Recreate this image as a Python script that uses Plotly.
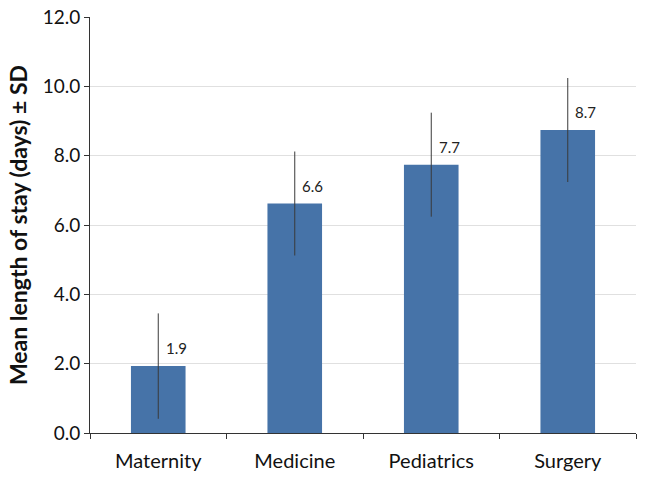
import plotly.graph_objects as go

categories = ["Maternity", "Medicine", "Pediatrics", "Surgery"]
means = [1.93, 6.62, 7.74, 8.74]
sds = [1.52, 1.5, 1.5, 1.5]
tick_vals = [0, 2, 4, 6, 8, 10, 12]
tick_text = ["0.0", "2.0", "4.0", "6.0", "8.0", "10.0", "12.0"]

FONT = "Lato, Open Sans, sans-serif"

fig = go.Figure()
fig.add_trace(go.Bar(
    x=categories, y=means, width=0.4,
    marker=dict(color="#4673A8", line=dict(width=0)),
    error_y=dict(type="data", array=sds, visible=True, color="#3a3a3a", thickness=1, width=0),
))

for c, m in zip(categories, means):
    fig.add_annotation(x=c, y=m, text=f"{m:.1f}", showarrow=False,
                       xshift=18, yshift=18, font=dict(family=FONT, size=15, color="#222"))

fig.update_layout(
    width=645, height=481,
    margin=dict(l=90, r=9, t=17, b=48),
    paper_bgcolor="white", plot_bgcolor="white",
    showlegend=False,
    font=dict(family=FONT, color="#111"),
)
fig.update_yaxes(
    range=[0, 12], tickvals=tick_vals, ticktext=tick_text,
    showgrid=True, gridcolor="#e0e0e0", gridwidth=1,
    showline=True, linecolor="#333", linewidth=1,
    ticks="outside", ticklen=5, tickcolor="#333",
    tickfont=dict(family=FONT, size=19, color="#111"),
    title=dict(text="<b>Mean length of stay (days) ± SD</b>", font=dict(family=FONT, size=23, color="#111"), standoff=8),
    zeroline=False, automargin=False, ticklabeloverflow="allow",
)
fig.update_xaxes(
    showline=True, linecolor="#333", linewidth=1,
    ticks="outside", ticklen=5, tickcolor="#333", tickson="boundaries",
    tickfont=dict(family=FONT, size=20, color="#111"),
    ticklabelstandoff=10,
    showgrid=False, automargin=False,
)

# remove the default 8px page margin so the figure fills the window exactly
fig.write_html("out.html", config={"displayModeBar": False},
               post_script="document.body.style.margin='0';")
